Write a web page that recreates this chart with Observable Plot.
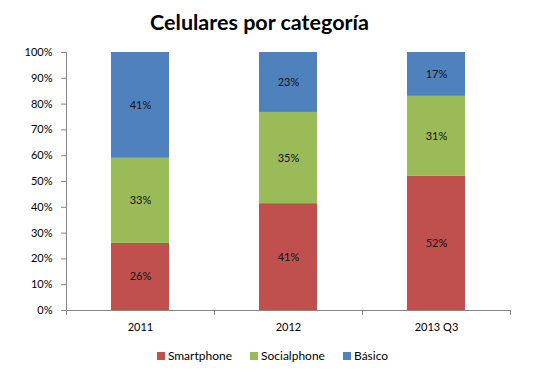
<!DOCTYPE html>
<html><head><meta charset="utf-8">
<script src="https://cdn.jsdelivr.net/npm/d3@7"></script>
<script src="https://cdn.jsdelivr.net/npm/@observablehq/plot@0.6"></script>
<style>
body{margin:0;background:#fff;width:543px;height:380px;overflow:hidden;font-family:Lato,"Open Sans",sans-serif;}
#title{height:42px;line-height:44px;text-align:center;font-weight:bold;font-size:21.5px;color:#000;padding-right:24px;}
#legend{display:flex;justify-content:center;align-items:center;gap:18px;font-size:12px;color:#000;margin-top:6px;margin-left:2px;}
#legend span.sw{display:inline-block;width:8px;height:8px;margin-right:3px;}
</style></head>
<body>
<div id="title">Celulares por categoría</div>
<div id="chart"></div>
<div id="legend"></div>
<script>
const categories = ["2011", "2012", "2013 Q3"];
const seriesNames = ["Smartphone", "Socialphone", "Básico"];
const smartphone = [26, 41, 52];
const socialphone = [33, 35, 31];
const basico = [41, 23, 17];
const colors = ["#C0504D", "#9BBB59", "#4F81BD"];
const yTicks = [0, 0.1, 0.2, 0.3, 0.4, 0.5, 0.6, 0.7, 0.8, 0.9, 1];

const seriesValues = [smartphone, socialphone, basico];
const data = [];
seriesNames.forEach((s, i) => categories.forEach((c, j) => data.push({cat: c, serie: s, value: seriesValues[i][j]})));

const stack = {x: "cat", y: "value", z: "serie", offset: "normalize", order: seriesNames};
const plot = Plot.plot({
  width: 543, height: 300,
  marginTop: 10, marginBottom: 32, marginLeft: 66, marginRight: 33,
  style: {fontFamily: "Lato, 'Open Sans', sans-serif", fontSize: "11px", color: "#000", background: "#fff"},
  x: {domain: categories, paddingInner: 0.608, paddingOuter: 0.304, label: null},
  y: {domain: [0, 1], label: null},
  color: {domain: seriesNames, range: colors},
  marks: [
    Plot.barY(data, Plot.stackY({...stack, fill: "serie"})),
    Plot.text(data, Plot.stackY({...stack, y: "value", text: d => d.value + "%", fill: "#111", fontSize: 11})),
    Plot.axisY({ticks: yTicks, tickFormat: d => Math.round(d * 100) + "%", tickSize: 5, tickPadding: 9, stroke: "#868686", label: null, fill: "#000"}),
    Plot.axisX({tickSize: 0, tickPadding: 13, label: null, fill: "#000"})
  ]
});
document.getElementById("chart").appendChild(plot);

// axis lines and category boundary ticks via the plot's scales
const xs = plot.scale("x"), ys = plot.scale("y");
const gap = (xs.step - xs.bandwidth) / 2;
const bounds = categories.map(c => xs.apply(c) - gap);
bounds.push(xs.apply(categories[categories.length - 1]) + xs.bandwidth + gap);
const y0 = ys.apply(0), y1 = ys.apply(1);
const g = d3.select(plot).append("g").attr("stroke", "#868686").attr("shape-rendering", "crispEdges");
g.append("line").attr("x1", bounds[0]).attr("x2", bounds[0]).attr("y1", y1).attr("y2", y0);
g.append("line").attr("x1", bounds[0]).attr("x2", bounds[bounds.length - 1]).attr("y1", y0).attr("y2", y0);
bounds.forEach(b => g.append("line").attr("x1", b).attr("x2", b).attr("y1", y0).attr("y2", y0 + 5));

const legend = d3.select("#legend");
seriesNames.forEach((s, i) => {
  const item = legend.append("div");
  item.append("span").attr("class", "sw").style("background", colors[i]);
  item.append("span").text(s);
});
</script>
</body></html>
